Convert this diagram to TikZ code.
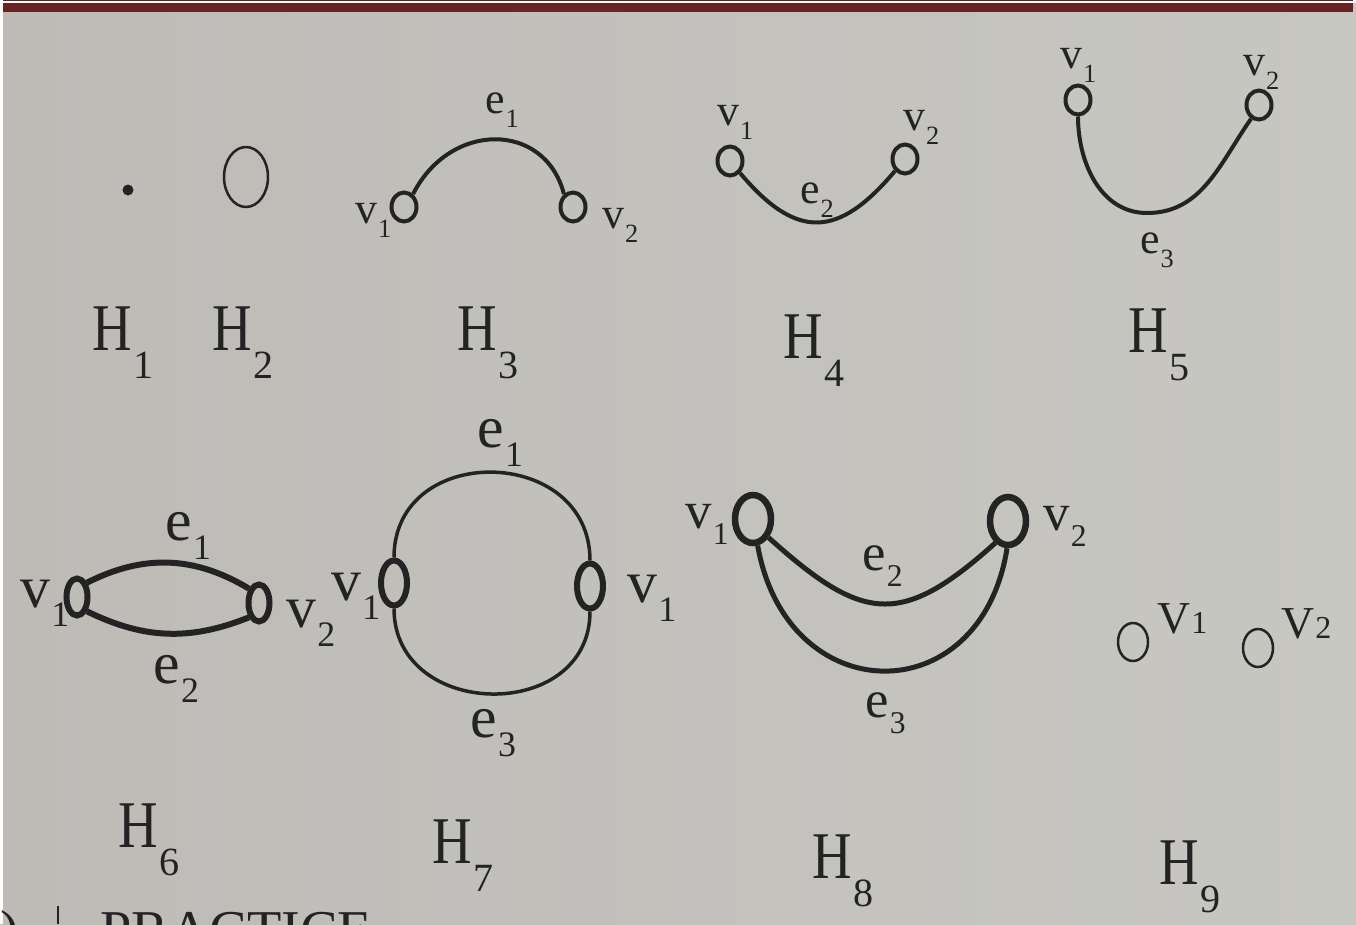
\documentclass[tikz,border=0pt]{standalone}
\usepackage{fontspec}
\setmainfont{Liberation Serif}
\usetikzlibrary{shapes.geometric}
\definecolor{paperL}{RGB}{190,187,183}
\definecolor{paperR}{RGB}{199,199,194}
\definecolor{ink}{RGB}{35,35,35}
\definecolor{barred}{RGB}{104,35,35}
\newcommand\sublab[2]{#1\kern0.02em\raisebox{-0.32em}{\scalebox{0.6}{#2}}}
\newcommand\Hlab[1]{\scalebox{0.82}[1]{H}\kern0.03em\raisebox{-0.42em}{\scalebox{0.6}{#1}}}
\newcommand\Vlab[1]{V\kern0.02em\raisebox{0em}{\scalebox{0.7}{#1}}}
\tikzset{
  hl/.style={font=\fontsize{38}{40}\selectfont, text=ink, inner sep=0pt, anchor=base west},
  sl/.style={font=\fontsize{25}{27}\selectfont, text=ink, inner sep=0pt, anchor=base west},
  bl/.style={font=\fontsize{34}{36}\selectfont, text=ink, inner sep=0pt, anchor=base west},
  ml/.style={font=\fontsize{30}{32}\selectfont, text=ink, inner sep=0pt, anchor=base west},
  vl/.style={font=\fontsize{26}{28}\selectfont, text=ink, inner sep=0pt, anchor=base west},
  vA/.style={ellipse, draw=ink, line width=0.08cm, inner sep=0pt, minimum width=0.5cm, minimum height=0.58cm},
  vB/.style={ellipse, draw=ink, line width=0.12cm, inner sep=0pt, minimum width=0.42cm, minimum height=0.74cm},
  vC/.style={ellipse, draw=ink, line width=0.12cm, inner sep=0pt, minimum width=0.52cm, minimum height=0.9cm},
  vD/.style={ellipse, draw=ink, line width=0.13cm, inner sep=0pt, minimum width=0.72cm, minimum height=0.96cm},
  vE/.style={ellipse, draw=ink, line width=0.05cm, inner sep=0pt, minimum width=0.6cm, minimum height=0.76cm},
  edgeA/.style={draw=ink, line width=0.08cm},
  edgeB/.style={draw=ink, line width=0.12cm},
  edgeC/.style={draw=ink, line width=0.07cm},
  edgeD/.style={draw=ink, line width=0.1cm},
}
\begin{document}
\begin{tikzpicture}[x=0.02cm,y=-0.02cm]
\useasboundingbox (0,0) rectangle (1356,924);
\begin{scope}
\clip (0,0) rectangle (1356,924);
% paper
\fill[left color=paperL, right color=paperR] (0,0) rectangle (1356,924);
\fill[white] (0,0) rectangle (3,924);
\fill[white] (0,0) rectangle (1356,3);
\fill[barred] (3,0) rectangle (1353,1);
\fill[barred] (3,3) rectangle (1353,12);

% ---------- H1 ----------
\node[circle, fill=ink, inner sep=0pt, minimum size=0.22cm] (h1v) at (128,190) {};
\node[hl] (H1) at (92,350) {\Hlab{1}};

% ---------- H2 ----------
\node[ellipse, draw=ink, line width=0.05cm, inner sep=0pt, minimum width=0.88cm, minimum height=1.2cm] (h2v) at (246,177) {};
\node[hl] (H2) at (212,350) {\Hlab{2}};

% ---------- H3 ----------
\node[vA] (h3a) at (404,207) {};
\node[vA] (h3b) at (573,207) {};
\draw[edgeA] (h3a.55) .. controls (450,121) and (545,121) .. (h3b.125);
\node[sl] (h3e) at (485,113) {\sublab{e}{1}};
\node[sl] (h3la) at (355,223) {\sublab{v}{1}};
\node[sl] (h3lb) at (602,228) {\sublab{v}{2}};
\node[hl] (H3) at (457,350) {\Hlab{3}};

% ---------- H4 ----------
\node[vA] (h4a) at (730,161) {};
\node[vA] (h4b) at (905,159) {};
\draw[edgeA] (h4a.-50) to[out=-50, in=-130, looseness=1.45] (h4b.-130);
\node[sl] (h4e) at (800,203) {\sublab{e}{2}};
\node[sl] (h4la) at (717,125) {\sublab{v}{1}};
\node[sl] (h4lb) at (903,130) {\sublab{v}{2}};
\node[hl] (H4) at (783,358) {\Hlab{4}};

% ---------- H5 ----------
\node[vA] (h5a) at (1078,100) {};
\node[vA] (h5b) at (1259,105) {};
\coordinate (h5m) at (1147,213);
\draw[edgeA] (h5a.south) to[out=-90, in=180] (h5m) to[out=0, in=-125] (h5b.-120);
\node[sl] (h5e) at (1140,253) {\sublab{e}{3}};
\node[sl] (h5la) at (1060,68) {\sublab{v}{1}};
\node[sl] (h5lb) at (1243,75) {\sublab{v}{2}};
\node[hl] (H5) at (1128,352) {\Hlab{5}};

% ---------- H6 ----------
\node[vB] (h6a) at (77,597) {};
\node[vB] (h6b) at (259,603) {};
\draw[edgeB] (h6a.55) to[bend left=29] (h6b.125);
\draw[edgeB] (h6a.-55) to[bend right=24] (h6b.-125);
\node[bl] (h6e1) at (165,540) {\sublab{e}{1}};
\node[bl] (h6e2) at (153,683) {\sublab{e}{2}};
\node[bl] (h6la) at (20,607) {\sublab{v}{1}};
\node[bl] (h6lb) at (286,627) {\sublab{v}{2}};
\node[hl] (H6) at (118,847) {\Hlab{6}};

% ---------- H7 ----------
\node[vC] (h7a) at (394,583) {};
\node[vC] (h7b) at (590,586) {};
\draw[edgeC] (h7a.north) to[out=90, in=90, looseness=1.51] (h7b.north);
\draw[edgeC] (h7a.south) to[out=-90, in=-90, looseness=1.46] (h7b.south);
\node[bl] (h7e1) at (477,447) {\sublab{e}{1}};
\node[bl] (h7e3) at (470,737) {\sublab{e}{3}};
\node[bl] (h7la) at (331,600) {\sublab{v}{1}};
\node[bl] (h7lb) at (627,602) {\sublab{v}{1}};
\node[hl] (H7) at (432,863) {\Hlab{7}};

% ---------- H8 ----------
\node[vD] (h8a) at (753,519) {};
\node[vD] (h8b) at (1008,521) {};
\draw[edgeD] (h8a.-50) to[out=-42, in=-138, looseness=1.43] (h8b.-120);
\draw[edgeD] (h8a.-80) to[out=-80, in=-99, looseness=1.72] (h8b.-92);
\node[ml] (h8e2) at (862,570) {\sublab{e}{2}};
\node[ml] (h8e3) at (865,717) {\sublab{e}{3}};
\node[ml] (h8la) at (685,528) {\sublab{v}{1}};
\node[ml] (h8lb) at (1043,530) {\sublab{v}{2}};
\node[hl] (H8) at (812,878) {\Hlab{8}};

% ---------- H9 ----------
\node[vE] (h9a) at (1133,642) {};
\node[vE] (h9b) at (1258,648) {};
\node[vl] (h9la) at (1157,633) {\Vlab{1}};
\node[vl] (h9lb) at (1281,638) {\Vlab{2}};
\node[hl] (H9) at (1159,884) {\Hlab{9}};

% ---------- cut-off text at the bottom ----------
\node[font=\fontsize{32}{34}\selectfont, text=ink, inner sep=0pt, anchor=north west] (frag1) at (0,910) {)};
\node[font=\fontsize{32}{34}\selectfont, text=ink, inner sep=0pt, anchor=north west] (frag2) at (100,912) {PRACTICE};
\draw[ink, line width=0.05cm] (58,906) -- (58,924);
\end{scope}
\end{tikzpicture}
\end{document}
